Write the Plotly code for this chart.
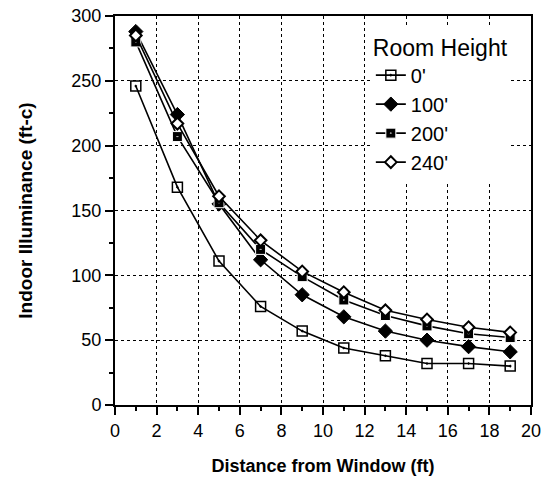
import plotly.graph_objects as go

distance = [1, 3, 5, 7, 9, 11, 13, 15, 17, 19]
h0 = [246, 168, 111, 76, 57, 44, 38, 32, 32, 30]
h100 = [288, 224, 155, 112, 85, 68, 57, 50, 45, 41]
h200 = [280, 207, 156, 120, 99, 81, 69, 61, 55, 52]
h240 = [285, 217, 161, 127, 103, 87, 73, 66, 60, 56]
series_names = ["0'", "100'", "200'", "240'"]
x_ticks = list(range(0, 21, 2))
y_ticks = list(range(0, 301, 50))

styles = [
    dict(symbol="square-open-dot", size=10, color="black", line=dict(color="black", width=1.5)),
    dict(symbol="diamond", size=11, color="black", line=dict(color="black", width=1)),
    dict(symbol="square-dot", size=10, color="black", line=dict(color="white", width=1)),
    dict(symbol="diamond", size=9, color="white", line=dict(color="black", width=2)),
]

fig = go.Figure()
for name, ys, st in zip(series_names, [h0, h100, h200, h240], styles):
    fig.add_trace(go.Scatter(
        x=distance, y=ys, name=name, mode="lines+markers",
        line=dict(color="black", width=1.6),
        marker=st,
    ))

fig.update_layout(
    width=545, height=491,
    margin=dict(l=115, r=14, t=16, b=86),
    paper_bgcolor="white", plot_bgcolor="white",
    font=dict(family="Liberation Sans, Arial, sans-serif", color="black", size=16),
    legend=dict(
        title=dict(text="Room Height", font=dict(size=23)),
        x=0.615, y=0.975, xanchor="left", yanchor="top",
        bgcolor="white", font=dict(size=20),
        itemwidth=30, tracegroupgap=0,
    ),
    showlegend=True,
)
fig.update_xaxes(
    range=[0, 20], tickvals=x_ticks, ticktext=[str(v) for v in x_ticks],
    showline=True, linecolor="black", linewidth=2, mirror=True,
    ticks="outside", ticklen=8, tickwidth=1.5, tickcolor="black",
    minor=dict(dtick=1, ticks="outside", ticklen=4, tickcolor="black", showgrid=False),
    showgrid=True, gridcolor="black", griddash="dot", gridwidth=1,
    zeroline=False, automargin=False,
    title=dict(text="<b>Distance from Window (ft)</b>", font=dict(size=18), standoff=20),
    tickfont=dict(size=18),
)
fig.update_yaxes(
    range=[0, 300], tickvals=y_ticks,
    showline=True, linecolor="black", linewidth=2, mirror=True,
    ticks="outside", ticklen=8, tickwidth=1.5, tickcolor="black",
    minor=dict(dtick=25, ticks="outside", ticklen=4, tickcolor="black", showgrid=False),
    showgrid=True, gridcolor="black", griddash="dot", gridwidth=1,
    zeroline=False, automargin=False,
    title=dict(text="<b>Indoor Illuminance (ft-c)</b>", font=dict(size=19), standoff=34),
    tickfont=dict(size=18),
)

fig.write_html(
    "out.html",
    config={"displayModeBar": False},
    post_script="document.documentElement.style.margin='0';document.body.style.margin='0';document.body.style.overflow='hidden';",
)
